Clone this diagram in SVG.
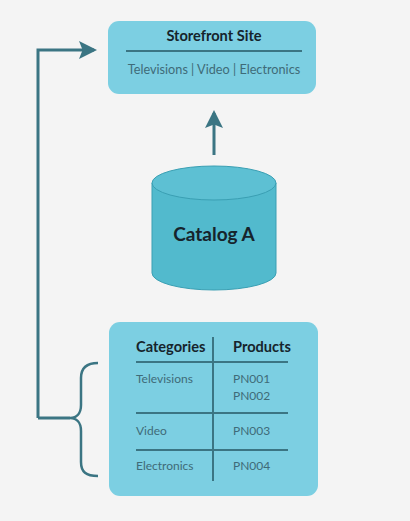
<svg xmlns="http://www.w3.org/2000/svg" width="410" height="521" viewBox="0 0 410 521">
<style>
.box{fill:#7ccfe2;}
.t{font-family:Lato,"Open Sans",sans-serif;}
.h{font-weight:bold;fill:#16242c;font-size:14.6px;}
.s{fill:#3f6b78;font-size:12px;}
.ln{stroke:#3b7583;stroke-width:2;fill:none;}
.conn{stroke:#3b7583;stroke-width:3;fill:none;}
</style>
<defs>
<marker id="ah" markerWidth="6" markerHeight="6" refX="5" refY="3" orient="auto" markerUnits="strokeWidth">
<path d="M0,0 L6,3 L0,6 L1.2,3 Z" fill="#3b7583"/>
</marker>
</defs>
<rect width="410" height="521" fill="#f4f4f4"/>
<g id="connectors">
<path class="conn" d="M38,418 L38,50 L94,50" marker-end="url(#ah)"/>
<path class="conn" d="M38,418 L70,418"/>
<path class="conn" d="M214,155 L214,113" marker-end="url(#ah)"/>
<path stroke="#3b7583" stroke-width="2.5" fill="none" d="M98,363 C86,363 81,368 81,378 L81,405 C81,414 76,418 70,418 C76,418 81,422 81,431 L81,462 C81,472 86,476 98,476"/>
</g>
<g id="storefront">
<rect class="box" x="108" y="21" width="208" height="73" rx="11"/>
<text class="t h" x="214" y="41" text-anchor="middle" font-size="15.5">Storefront Site</text>
<line class="ln" x1="126" y1="51" x2="302" y2="51"/>
<text class="t s" x="214" y="73.5" text-anchor="middle" style="font-size:12.7px">Televisions | Video | Electronics</text>
</g>
<g id="catalog">
<path d="M152,183 L152,273 A62,17 0 0 0 276,273 L276,183 Z" fill="#52bacd" stroke="#3a9fb3" stroke-width="1"/>
<ellipse cx="214" cy="183" rx="62" ry="17" fill="#5dc0d3" stroke="#3a9fb3" stroke-width="1"/>
<text class="t" x="214" y="241" text-anchor="middle" font-size="19" font-weight="bold" fill="#16242c">Catalog A</text>
</g>
<g id="table">
<rect class="box" x="109" y="322" width="209" height="174" rx="11"/>
<text class="t h" x="136" y="352">Categories</text>
<text class="t h" x="233" y="352">Products</text>
<line class="ln" x1="136" y1="362" x2="288" y2="362"/>
<line class="ln" x1="213" y1="337" x2="213" y2="481"/>
<line class="ln" x1="136" y1="413" x2="288" y2="413"/>
<line class="ln" x1="136" y1="450" x2="288" y2="450"/>
<text class="t s" x="136" y="383">Televisions</text>
<text class="t s" x="233" y="383">PN001</text>
<text class="t s" x="233" y="400">PN002</text>
<text class="t s" x="136" y="435">Video</text>
<text class="t s" x="233" y="435">PN003</text>
<text class="t s" x="136" y="470">Electronics</text>
<text class="t s" x="233" y="470">PN004</text>
</g>
</svg>
